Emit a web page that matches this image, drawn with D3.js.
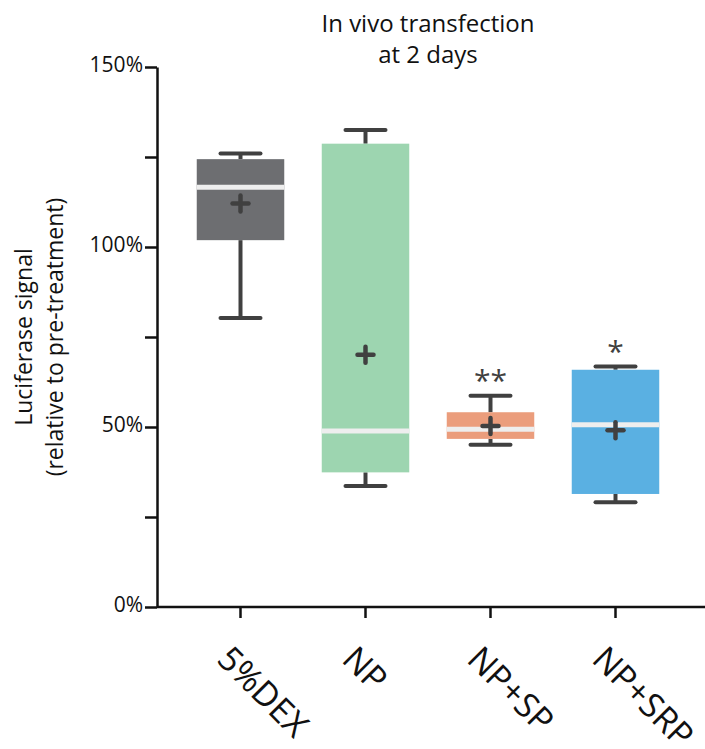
<!DOCTYPE html>
<html><head><meta charset="utf-8">
<script src="https://cdn.jsdelivr.net/npm/d3@7"></script>
<style>body{margin:0;background:#fff}svg{display:block}text{font-family:"Open Sans",sans-serif}</style>
</head><body>
<script>
const categories = ["5%DEX","NP","NP+SP","NP+SRP"];
const whiskerMin = [80.3, 33.6, 45.1, 29.1];
const q1        = [101.9, 37.4, 46.7, 31.4];
const medians   = [116.6, 48.9, 49.4, 50.6];
const q3        = [124.4, 128.7, 54.1, 65.9];
const whiskerMax= [126.0, 132.5, 58.7, 66.8];
const means     = [112.1, 70.1, 50.3, 49.1];
const colors    = ["#6d6e71","#9dd5b0","#eb9d7c","#5ab0e2"];
const stars     = ["","","**","*"];
const yTicks = [0,25,50,75,100,125,150];
const yLabels = {0:"0%",50:"50%",100:"100%",150:"150%"};

const W=705,H=749;
const svg=d3.select("body").append("svg").attr("width",W).attr("height",H);
const y=d3.scaleLinear().domain([0,150]).range([607,67]);
const x=d3.scaleBand().domain(categories).range([178,678]).paddingInner(0.3).paddingOuter(0.15);
const dark="#404040";

// y axis
const yAxis=svg.append("g").attr("transform","translate(157,0)")
  .call(d3.axisLeft(y).tickValues(yTicks).tickFormat(d=>yLabels[d]||"").tickSize(12).tickSizeOuter(0));
yAxis.select(".domain").attr("stroke","#111").attr("stroke-width",2.5);
yAxis.selectAll(".tick line").attr("stroke","#111").attr("stroke-width",2.5);
yAxis.selectAll(".tick text").attr("font-size",21).attr("fill","#111").attr("x",-14).attr("dy","0.2em");
// x axis
const xAxis=svg.append("g").attr("transform","translate(0,607)")
  .call(d3.axisBottom(x).tickSize(11).tickSizeOuter(0));
xAxis.select(".domain").attr("d","M157,0H705").attr("stroke","#111").attr("stroke-width",2.5);
xAxis.selectAll(".tick line").attr("stroke","#111").attr("stroke-width",2.5);
xAxis.selectAll(".tick text").attr("font-size",34).attr("fill","#111")
  .attr("text-anchor","start").attr("y",0).attr("dy",0)
  .attr("transform","translate(-25,54) rotate(45)");

const g=svg.append("g");
categories.forEach((c,i)=>{
  const cx=x(c)+x.bandwidth()/2, bw=x.bandwidth();
  const capW=44;
  g.append("line").attr("x1",cx).attr("x2",cx).attr("y1",y(whiskerMax[i])).attr("y2",y(q3[i])).attr("stroke",dark).attr("stroke-width",4);
  g.append("line").attr("x1",cx).attr("x2",cx).attr("y1",y(q1[i])).attr("y2",y(whiskerMin[i])).attr("stroke",dark).attr("stroke-width",4);
  [whiskerMax[i],whiskerMin[i]].forEach(v=>{
    g.append("line").attr("x1",cx-capW/2+2).attr("x2",cx+capW/2-2).attr("y1",y(v)).attr("y2",y(v)).attr("stroke",dark).attr("stroke-width",4).attr("stroke-linecap","round");
  });
  g.append("rect").attr("x",x(c)).attr("width",bw).attr("y",y(q3[i])).attr("height",y(q1[i])-y(q3[i])).attr("fill",colors[i]);
  g.append("line").attr("x1",x(c)).attr("x2",x(c)+bw).attr("y1",y(medians[i])).attr("y2",y(medians[i])).attr("stroke","#eeeeee").attr("stroke-width",5);
  const my=y(means[i]);
  g.append("line").attr("x1",cx-8).attr("x2",cx+8).attr("y1",my).attr("y2",my).attr("stroke",dark).attr("stroke-width",4.5).attr("stroke-linecap","round");
  g.append("line").attr("x1",cx).attr("x2",cx).attr("y1",my-8).attr("y2",my+8).attr("stroke",dark).attr("stroke-width",4.5).attr("stroke-linecap","round");
  if(stars[i]) g.append("text").attr("x",cx).attr("y",y(whiskerMax[i])-5).attr("text-anchor","middle").attr("font-size",30).attr("fill",dark).text(stars[i]);
});

// title
svg.append("text").attr("text-anchor","middle").attr("font-size",24).attr("fill","#111")
  .attr("x",428).attr("y",32).text("In vivo transfection");
svg.append("text").attr("text-anchor","middle").attr("font-size",24).attr("fill","#111")
  .attr("x",428).attr("y",63).text("at 2 days");
// y label
const yl=svg.append("text").attr("transform","translate(0,337) rotate(-90)").attr("text-anchor","middle").attr("font-size",23).attr("fill","#111");
yl.append("tspan").attr("x",0).attr("y",32).text("Luciferase signal");
yl.append("tspan").attr("x",0).attr("y",63).text("(relative to pre-treatment)");
</script>
</body></html>
